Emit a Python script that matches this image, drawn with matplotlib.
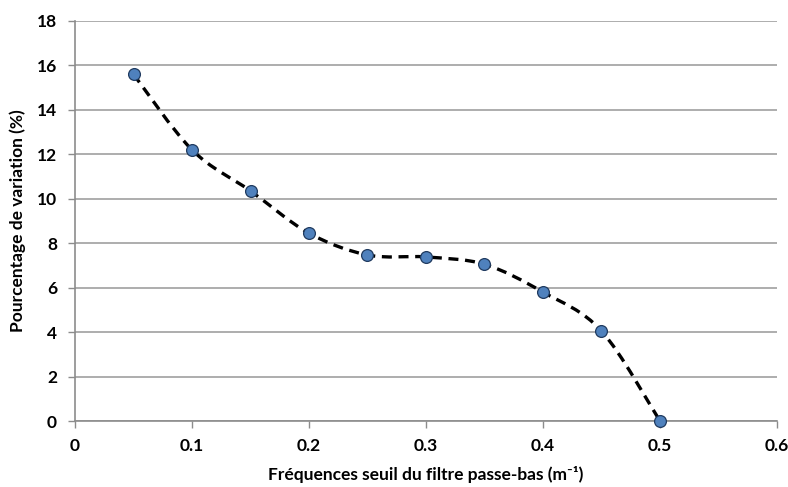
import numpy as np
import matplotlib
matplotlib.use("Agg")
import matplotlib.pyplot as plt
from matplotlib.path import Path
from matplotlib.patches import PathPatch

freq = [0.05, 0.10, 0.15, 0.20, 0.25, 0.30, 0.35, 0.40, 0.45, 0.50]
variation = [15.6, 12.2, 10.35, 8.45, 7.47, 7.38, 7.05, 5.8, 4.05, 0.0]
xticks = [0, 0.1, 0.2, 0.3, 0.4, 0.5, 0.6]
xticklabels = ["0", "0.1", "0.2", "0.3", "0.4", "0.5", "0.6"]
yticks = list(range(0, 19, 2))

plt.rcParams['font.family'] = ['Lato', 'DejaVu Sans']

fig = plt.figure(figsize=(7.88, 4.87), dpi=100)
ax = fig.add_axes([0.0952, 0.1355, 0.8908, 0.8215])

# smooth line (Excel-like Bezier through the points)
P = np.column_stack([freq, variation])
n = len(P)
verts = [tuple(P[0])]
codes = [Path.MOVETO]
for i in range(n - 1):
    p0 = P[i - 1] if i > 0 else P[i]
    p1 = P[i]
    p2 = P[i + 1]
    p3 = P[i + 2] if i + 2 < n else P[i + 1]
    c1 = p1 + (p2 - p0) / 6.0
    c2 = p2 - (p3 - p1) / 6.0
    verts += [tuple(c1), tuple(c2), tuple(p2)]
    codes += [Path.CURVE4] * 3
patch = PathPatch(Path(verts, codes), facecolor='none', edgecolor='black',
                  lw=2.4, linestyle=(0, (3.0, 2.0)), zorder=3, capstyle='butt')
ax.add_patch(patch)

ax.plot(freq, variation, linestyle='none', marker='o', markersize=8.5,
        markerfacecolor='#4F81BD', markeredgecolor='#1F3A5F', markeredgewidth=0.9,
        zorder=4, clip_on=False)

ax.set_xlim(0, 0.6)
ax.set_ylim(0, 18)
ax.set_xticks(xticks)
ax.set_xticklabels(xticklabels)
ax.set_yticks(yticks)
ax.yaxis.grid(True, color='#A0A0A0', linewidth=1.2)
ax.set_axisbelow(True)
for s in ['top', 'right']:
    ax.spines[s].set_visible(False)
for s in ['left', 'bottom']:
    ax.spines[s].set_color('#8C8C8C')
    ax.spines[s].set_linewidth(1.2)
ax.tick_params(axis='both', direction='out', length=5, width=1.0, color='#8C8C8C',
               labelsize=12.5)
ax.tick_params(axis='x', pad=7)
ax.tick_params(axis='y', pad=8)
for lab in ax.get_xticklabels() + ax.get_yticklabels():
    lab.set_fontweight('bold')

ax.set_xlabel("Fréquences seuil du filtre passe-bas (m\u207b\u00b9)", fontsize=12.5,
              fontweight='bold', labelpad=9)
ax.set_ylabel("Pourcentage de variation (%)", fontsize=12.5, fontweight='bold', labelpad=8)

fig.savefig("out.png", dpi=100)
